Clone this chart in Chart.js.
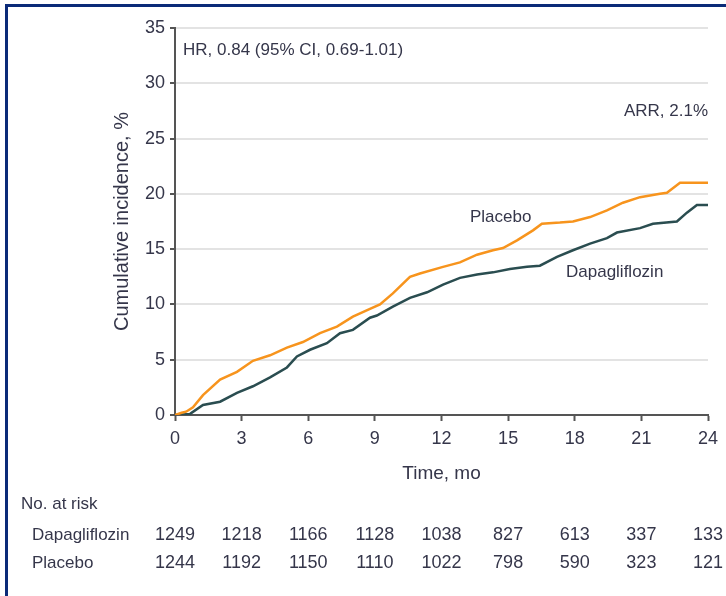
<!DOCTYPE html>
<html>
<head>
<meta charset="utf-8">
<script src="https://cdn.jsdelivr.net/npm/chart.js@4.4.1/dist/chart.umd.min.js"></script>
<style>
    html, body { margin: 0; padding: 0; background: #fff; }
    #wrap { position: relative; width: 726px; height: 596px; }
    #frame { position: absolute; left: 5px; top: 4px; right: 0; bottom: 0;
             border-top: 3px solid #0b2a78; border-left: 3px solid #0b2a78; pointer-events: none; }
</style>
</head>
<body>
<div id="wrap">
    <canvas id="kmChart" width="726" height="596"></canvas>
    <div id="frame"></div>
</div>
<script>
// 1. Data (months, cumulative incidence %)
const placeboTime = [0, 0.3, 0.5, 0.81, 1.26, 2.03, 2.79, 3.51, 4.28, 5.04, 5.76, 6.53, 7.29, 8.01, 8.78, 9.23,
    9.81, 10.58, 11.03, 12.07, 12.83, 13.6, 14.32, 14.77, 15.4, 16.12, 16.52, 17.33, 17.92, 18.69, 19.45,
    20.17, 20.94, 21.84, 22.15, 22.74, 24];
const placeboPct = [0, 0.2, 0.3, 0.7, 1.8, 3.2, 3.9, 4.9, 5.4, 6.1, 6.6, 7.4, 8.0, 8.9, 9.6, 10.0,
    11.0, 12.5, 12.8, 13.4, 13.8, 14.5, 14.9, 15.1, 15.8, 16.7, 17.3, 17.4, 17.5, 17.9, 18.5,
    19.2, 19.7, 20.0, 20.1, 21.0, 21.0];

const dapaTime = [0, 0.68, 1.26, 2.03, 2.79, 3.51, 4.28, 5.04, 5.49, 6.08, 6.84, 7.43, 8.01, 8.78, 9.09,
    9.81, 10.58, 11.35, 12.07, 12.83, 13.6, 14.32, 15.08, 15.85, 16.43, 17.2, 17.92, 18.69, 19.45,
    19.9, 20.94, 21.52, 22.6, 23.05, 23.5, 24];
const dapaPct = [0, 0.1, 0.9, 1.2, 2.0, 2.6, 3.4, 4.3, 5.3, 5.9, 6.5, 7.4, 7.7, 8.8, 9.0,
    9.8, 10.6, 11.1, 11.8, 12.4, 12.7, 12.9, 13.2, 13.4, 13.5, 14.3, 14.9, 15.5, 16.0,
    16.5, 16.9, 17.3, 17.5, 18.3, 19.0, 19.0];

// Number at risk table
const riskMonths = [0, 3, 6, 9, 12, 15, 18, 21, 24];
const dapaRisk = [1249, 1218, 1166, 1128, 1038, 827, 613, 337, 133];
const placeboRisk = [1244, 1192, 1150, 1110, 1022, 798, 590, 323, 121];

const TEXT = '#35364a';
const FONT = '"Liberation Sans", Arial, sans-serif';

const toPoints = (xs, ys) => xs.map((x, i) => ({ x: x, y: ys[i] }));

// 2. Annotations + risk table drawn on top using the chart's own x scale
const overlayPlugin = {
    id: 'overlay',
    afterDraw(chart) {
        const ctx = chart.ctx;
        const xs = chart.scales.x;
        ctx.save();
        ctx.fillStyle = TEXT;
        ctx.textBaseline = 'middle';
        ctx.font = '17px ' + FONT;

        ctx.textAlign = 'left';
        ctx.fillText('HR, 0.84 (95% CI, 0.69-1.01)', 183, 50);
        ctx.fillText('Placebo', 470, 217);
        ctx.fillText('Dapagliflozin', 566, 272);
        ctx.textAlign = 'right';
        ctx.fillText('ARR, 2.1%', 708, 111);

        // risk table
        ctx.textAlign = 'left';
        ctx.fillText('No. at risk', 21, 504);
        ctx.fillText('Dapagliflozin', 32, 535);
        ctx.fillText('Placebo', 32, 563);

        ctx.textAlign = 'center';
        ctx.font = '18px ' + FONT;
        riskMonths.forEach((m, i) => {
            const px = xs.getPixelForValue(m);
            ctx.fillText(String(dapaRisk[i]), px, 535);
            ctx.fillText(String(placeboRisk[i]), px, 563);
        });
        ctx.restore();
    }
};

// 3. Chart
new Chart(document.getElementById('kmChart'), {
    type: 'line',
    data: {
        datasets: [
            { label: 'Placebo', data: toPoints(placeboTime, placeboPct), borderColor: '#f7941d', borderWidth: 2.5 },
            { label: 'Dapagliflozin', data: toPoints(dapaTime, dapaPct), borderColor: '#2a4d50', borderWidth: 2.5 }
        ]
    },
    options: {
        responsive: false,
        animation: false,
        layout: { padding: { left: 0, right: 18, top: 28, bottom: 111 } },
        elements: { point: { radius: 0 }, line: { tension: 0 } },
        plugins: { legend: { display: false }, tooltip: { enabled: false } },
        scales: {
            x: {
                type: 'linear', min: 0, max: 24,
                ticks: { stepSize: 3, color: TEXT, font: { family: FONT, size: 18 }, padding: 7 },
                grid: { drawOnChartArea: false, tickLength: 6, tickColor: '#555', tickWidth: 2 },
                border: { color: '#555', width: 2 },
                title: { display: true, text: 'Time, mo', color: TEXT, font: { family: FONT, size: 19 }, padding: { top: 0, bottom: 0 } },
                afterFit: s => { s.height = 70; }
            },
            y: {
                min: 0, max: 35,
                ticks: { stepSize: 5, color: TEXT, font: { family: FONT, size: 18 }, padding: 5 },
                grid: { color: '#e3e3e3', lineWidth: 2, tickLength: 5, tickColor: '#555', tickWidth: 2 },
                border: { color: '#555', width: 2 },
                title: { display: true, text: 'Cumulative incidence, %', color: TEXT, font: { family: FONT, size: 20 }, padding: { top: 110, bottom: 0 } },
                afterFit: s => { s.width = 175; }
            }
        }
    },
    plugins: [overlayPlugin]
});
</script>
</body>
</html>
